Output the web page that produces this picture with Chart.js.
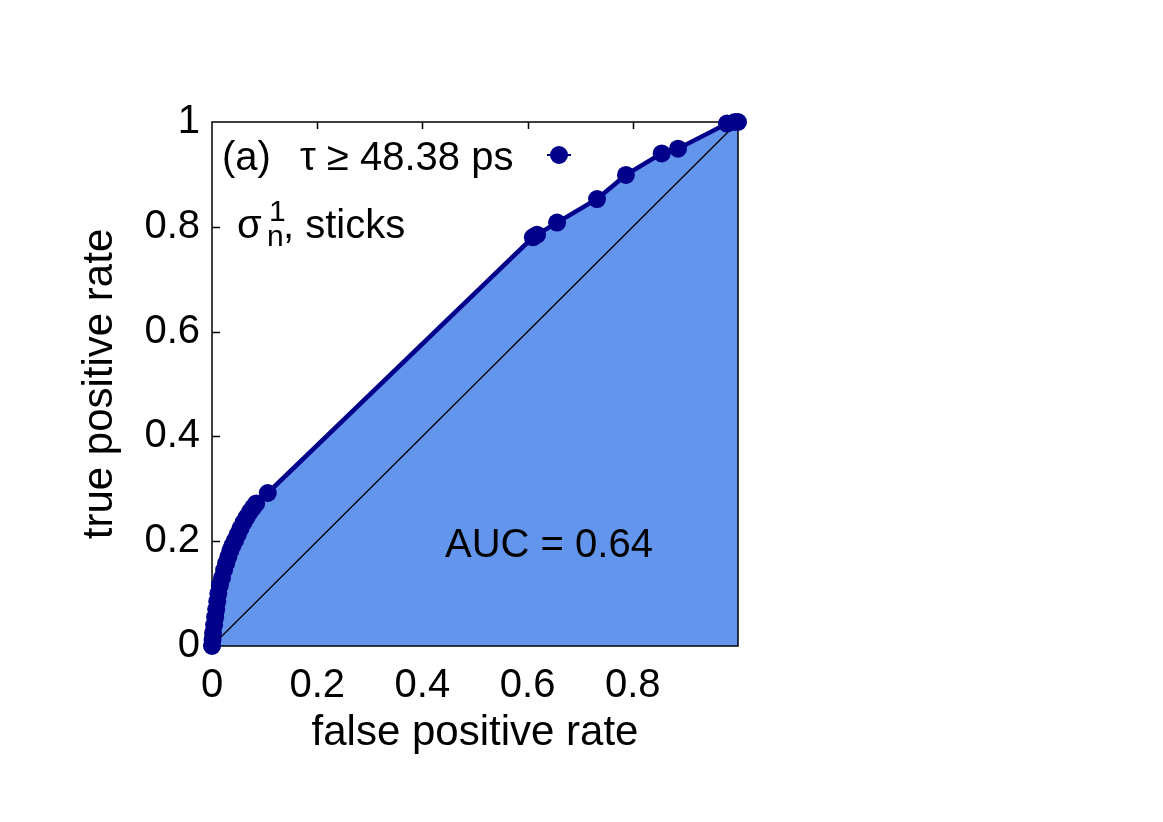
<!DOCTYPE html>
<html>
<head>
<meta charset="utf-8">
<script src="https://cdn.jsdelivr.net/npm/chart.js@4/dist/chart.umd.min.js"></script>
<style>
    body { margin: 0; background: #fff; }
    #wrap { width: 1163px; height: 822px; }
</style>
</head>
<body>
<div id="wrap"><canvas id="rocChart" width="1163" height="822"></canvas></div>
<script>
// ROC curve values (false positive rate / true positive rate)
const fpr = [0, 0.001, 0.002, 0.004, 0.006, 0.008, 0.010, 0.012, 0.015, 0.019, 0.023, 0.027,
    0.031, 0.035, 0.039, 0.044, 0.049, 0.054, 0.060, 0.066, 0.072, 0.078, 0.084, 0.106,
    0.610, 0.618, 0.656, 0.732, 0.787, 0.855, 0.886, 0.979, 0.994, 1];
const tpr = [0, 0.012, 0.025, 0.040, 0.055, 0.070, 0.085, 0.100, 0.116, 0.130, 0.145, 0.158,
    0.170, 0.182, 0.192, 0.202, 0.213, 0.224, 0.236, 0.246, 0.256, 0.264, 0.272, 0.292,
    0.780, 0.785, 0.808, 0.853, 0.899, 0.940, 0.949, 0.997, 1.0, 1.0];

// random classifier diagonal
const diagX = [0, 1];
const diagY = [0, 1];

const xTicks = [0, 0.2, 0.4, 0.6, 0.8];
const xTickLabels = ["0", "0.2", "0.4", "0.6", "0.8"];
const yTicks = [0, 0.2, 0.4, 0.6, 0.8, 1];
const yTickLabels = ["0", "0.2", "0.4", "0.6", "0.8", "1"];

const seriesLabel = "\u03C4 \u2265 48.38 ps";
const aucText = "AUC = 0.64";

const FONT = "'Liberation Sans', Arial, Helvetica, sans-serif";
const lineColor = "#00008b";
const fillColor = "#6495ed";

const rocPoints = fpr.map((x, i) => ({ x: x, y: tpr[i] }));
const diagPoints = diagX.map((x, i) => ({ x: x, y: diagY[i] }));

// inward tick marks on all four sides (fill covers bottom/right ones like the original)
const tickMarks = {
    id: "tickMarks",
    beforeDatasetsDraw(chart) {
        const { ctx, chartArea: a, scales } = chart;
        ctx.save();
        ctx.strokeStyle = "#000";
        ctx.lineWidth = 1.5;
        ctx.beginPath();
        xTicks.forEach(v => {
            if (v <= 0 || v >= 1) return;
            const px = Math.round(scales.x.getPixelForValue(v)) + 0.5;
            ctx.moveTo(px, a.top); ctx.lineTo(px, a.top + 7);
            ctx.moveTo(px, a.bottom); ctx.lineTo(px, a.bottom - 7);
        });
        yTicks.forEach(v => {
            if (v <= 0 || v >= 1) return;
            const py = Math.round(scales.y.getPixelForValue(v)) + 0.5;
            ctx.moveTo(a.left, py); ctx.lineTo(a.left + 8, py);
            ctx.moveTo(a.right, py); ctx.lineTo(a.right - 8, py);
        });
        ctx.stroke();
        ctx.restore();
    },
    afterDatasetDraw(chart, args) {
        // frame goes over the filled area but under the curve
        if (args.index !== 0) return;
        const { ctx, chartArea: a } = chart;
        ctx.save();
        ctx.strokeStyle = "#000";
        ctx.lineWidth = 1.5;
        ctx.strokeRect(a.left, a.top, a.right - a.left, a.bottom - a.top);
        ctx.restore();
    }
};

// key, panel label and AUC text
const annotations = {
    id: "annotations",
    afterDraw(chart) {
        const { ctx, chartArea: a } = chart;
        ctx.save();
        ctx.fillStyle = "#000";
        ctx.textBaseline = "alphabetic";
        ctx.font = "40px " + FONT;
        ctx.fillText("(a)", a.left + 10, a.top + 48);
        ctx.fillText(seriesLabel, a.left + 88, a.top + 48);

        // key sample
        const kx = a.left + 347, ky = a.top + 33;
        ctx.strokeStyle = lineColor;
        ctx.lineWidth = 2;
        ctx.beginPath();
        ctx.moveTo(kx - 12, ky); ctx.lineTo(kx + 12, ky);
        ctx.stroke();
        ctx.fillStyle = lineColor;
        ctx.beginPath();
        ctx.arc(kx, ky, 9, 0, Math.PI * 2);
        ctx.fill();

        // sigma_n^1, sticks
        ctx.fillStyle = "#000";
        const by = a.top + 116;
        ctx.font = "40px " + FONT;
        ctx.fillText("\u03C3", a.left + 25, by);
        ctx.font = "30px " + FONT;
        ctx.fillText("1", a.left + 57, by - 17);
        ctx.fillText("n", a.left + 55, by + 8);
        ctx.font = "40px " + FONT;
        ctx.fillText(", sticks", a.left + 71, by);

        ctx.fillText(aucText, a.left + 233, a.top + 435);
        ctx.restore();
    }
};

const ctx = document.getElementById("rocChart").getContext("2d");
const rocChart = new Chart(ctx, {
    type: "line",
    data: {
        datasets: [
            {
                label: "fill",
                data: rocPoints,
                borderWidth: 0,
                pointRadius: 0,
                backgroundColor: fillColor,
                fill: "origin",
                tension: 0,
                order: 3
            },
            {
                label: "diagonal",
                data: diagPoints,
                borderColor: "#000",
                borderWidth: 1.3,
                pointRadius: 0,
                fill: false,
                order: 2
            },
            {
                label: seriesLabel,
                data: rocPoints,
                borderColor: lineColor,
                borderWidth: 4.5,
                pointRadius: 9,
                pointBackgroundColor: lineColor,
                pointBorderColor: lineColor,
                pointBorderWidth: 0,
                fill: false,
                tension: 0,
                clip: false,
                order: 1
            }
        ]
    },
    options: {
        responsive: false,
        animation: false,
        events: [],
        layout: {
            padding: { left: 72, top: 122, right: 425, bottom: 56 }
        },
        plugins: {
            legend: { display: false },
            tooltip: { enabled: false }
        },
        scales: {
            x: {
                type: "linear",
                min: 0,
                max: 1,
                grid: { display: false, drawTicks: false },
                border: { display: false },
                afterBuildTicks: scale => { scale.ticks = xTicks.map(v => ({ value: v })); },
                afterFit: scale => { scale.height = 120; },
                ticks: {
                    padding: 16,
                    color: "#000",
                    maxRotation: 0,
                    font: { family: FONT, size: 40 },
                    callback: (v, i) => xTickLabels[i]
                },
                title: {
                    display: true,
                    text: "false positive rate",
                    color: "#000",
                    font: { family: FONT, size: 42 },
                    padding: { top: 0, bottom: 7 }
                }
            },
            y: {
                type: "linear",
                min: 0,
                max: 1,
                grid: { display: false, drawTicks: false },
                border: { display: false },
                afterBuildTicks: scale => { scale.ticks = yTicks.map(v => ({ value: v })); },
                afterFit: scale => { scale.width = 140; },
                ticks: {
                    padding: 12,
                    color: "#000",
                    font: { family: FONT, size: 40 },
                    callback: (v, i) => yTickLabels[i]
                },
                title: {
                    display: true,
                    text: "true positive rate",
                    color: "#000",
                    font: { family: FONT, size: 42 },
                    padding: { top: 3, bottom: 0 }
                }
            }
        }
    },
    plugins: [tickMarks, annotations]
});
</script>
</body>
</html>
